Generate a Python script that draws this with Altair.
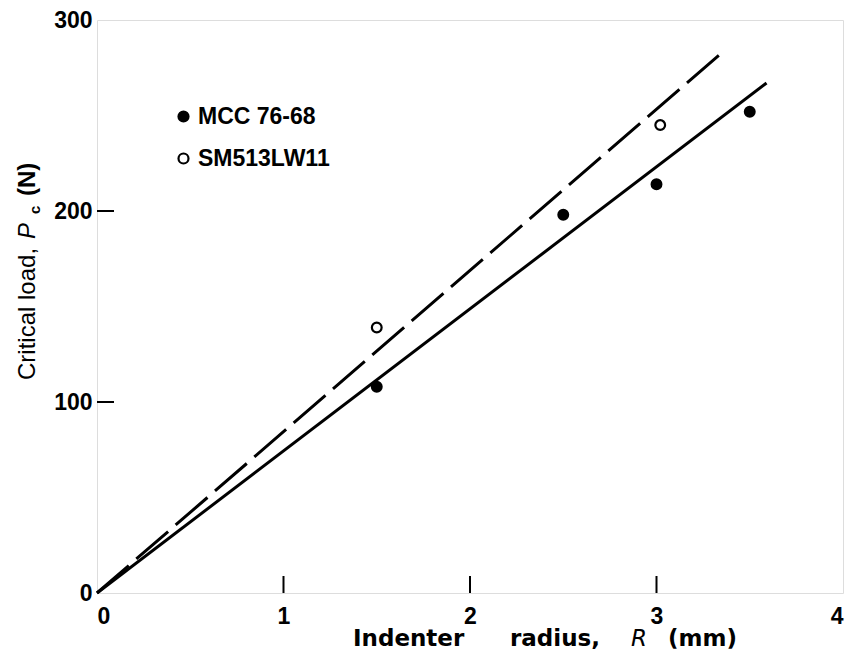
import altair as alt
import pandas as pd

# ---- data ----
series = ["MCC 76-68", "SM513LW11"]
mcc_r = [1.5, 2.5, 3.0, 3.5]
mcc_p = [108, 198, 214, 252]
sm_r = [1.5, 3.02]
sm_p = [139, 245]
mcc_fit_r = [0, 3.59]
mcc_fit_p = [0, 267]
sm_fit_r = [0, 3.34]
sm_fit_p = [0, 282]
x_ticks = [0, 1, 2, 3, 4]
y_ticks = [0, 100, 200, 300]
inner_x_ticks = [1, 2, 3]
inner_y_ticks = [100, 200]

pts = pd.DataFrame({
    "R": mcc_r + sm_r,
    "P": mcc_p + sm_p,
    "series": [series[0]] * len(mcc_r) + [series[1]] * len(sm_r),
})
fit_mcc = pd.DataFrame({"R": mcc_fit_r, "P": mcc_fit_p})
fit_sm = pd.DataFrame({"R": sm_fit_r, "P": sm_fit_p})
tx = pd.DataFrame({"t": inner_x_ticks})
ty = pd.DataFrame({"t": inner_y_ticks})
one = pd.DataFrame({"a": [0]})

W, H = 746, 573
FONT = "Liberation Sans"

xs = alt.Scale(domain=[0, 4], nice=False, zero=False)
ys = alt.Scale(domain=[0, 300], nice=False, zero=False)

xaxis = alt.Axis(values=x_ticks, title=None, format="d", grid=False, domain=False,
                 ticks=False, labelFont=FONT, labelFontSize=23, labelFontWeight="bold",
                 labelColor="black", labelPadding=12)
yaxis = alt.Axis(values=y_ticks, title=None, format="d", grid=False, domain=False,
                 ticks=False, labelFont=FONT, labelFontSize=23, labelFontWeight="bold",
                 labelColor="black", labelPadding=5)

line_mcc = alt.Chart(fit_mcc).mark_line(color="black", strokeWidth=3).encode(
    x=alt.X("R:Q", scale=xs, axis=xaxis), y=alt.Y("P:Q", scale=ys, axis=yaxis))
line_sm = alt.Chart(fit_sm).mark_line(color="black", strokeWidth=3, strokeDash=[42, 10]).encode(
    x=alt.X("R:Q", scale=xs), y=alt.Y("P:Q", scale=ys))

points = alt.Chart(pts).mark_point(shape="circle", size=95, strokeWidth=2.2, stroke="black",
                                   opacity=1, filled=False).encode(
    x=alt.X("R:Q", scale=xs),
    y=alt.Y("P:Q", scale=ys),
    fill=alt.Fill("series:N", scale=alt.Scale(domain=series, range=["black", "white"]),
                  legend=alt.Legend(title=None, orient="none", legendX=75, legendY=85,
                                    symbolType="circle", symbolSize=100, symbolStrokeWidth=2.2,
                                    symbolStrokeColor="black", symbolOpacity=1,
                                    labelFont=FONT, labelFontSize=23, labelFontWeight="bold",
                                    labelColor="black", labelOffset=3, rowPadding=18,
                                    padding=0)),
)

xt = alt.Chart(tx).mark_rule(color="black", strokeWidth=2).encode(
    x=alt.X("t:Q", scale=xs), y=alt.value(H), y2=alt.value(H - 17))
yt = alt.Chart(ty).mark_rule(color="black", strokeWidth=2).encode(
    y=alt.Y("t:Q", scale=ys), x=alt.value(0), x2=alt.value(17))


def label(text, x, y, size=23, weight="normal", style="normal", angle=0, font=FONT):
    return alt.Chart(one).mark_text(text=text, align="left", baseline="alphabetic",
                                    font=font, fontSize=size, fontWeight=weight,
                                    fontStyle=style, angle=angle, color="black").encode(
        x=alt.value(x), y=alt.value(y))


# y title (rotated) : Critical load, P_c (N)
ytitle = [
    label("Critical load,", -62, 360, size=24, angle=270),
    label("P", -62, 219, size=24, style="italic", angle=270),
    label("c", -57, 194, size=15, weight="bold", angle=270),
    label("(N)", -62, 176, size=24, weight="bold", angle=270),
]
# x title : Indenter  radius, R (mm)
XF = "DejaVu Sans"
xtitle = [
    label("Indenter", 256, 626, size=23, weight="bold", font=XF),
    label("radius,", 413, 626, size=23, weight="bold", font=XF),
    label("R", 534, 626, size=23, style="italic", font=XF),
    label("(mm)", 571, 626, size=23, weight="bold", font=XF),
]

chart = alt.layer(line_mcc, line_sm, xt, yt, points, *ytitle, *xtitle).properties(
    width=W, height=H,
    autosize=alt.AutoSizeParams(type="none"),
    padding={"left": 89, "top": 12, "right": 2, "bottom": 62},
).configure_view(stroke="black", strokeWidth=2.5).configure(background="white")

chart.save("out.html", embed_options={"renderer": "svg", "actions": False})
